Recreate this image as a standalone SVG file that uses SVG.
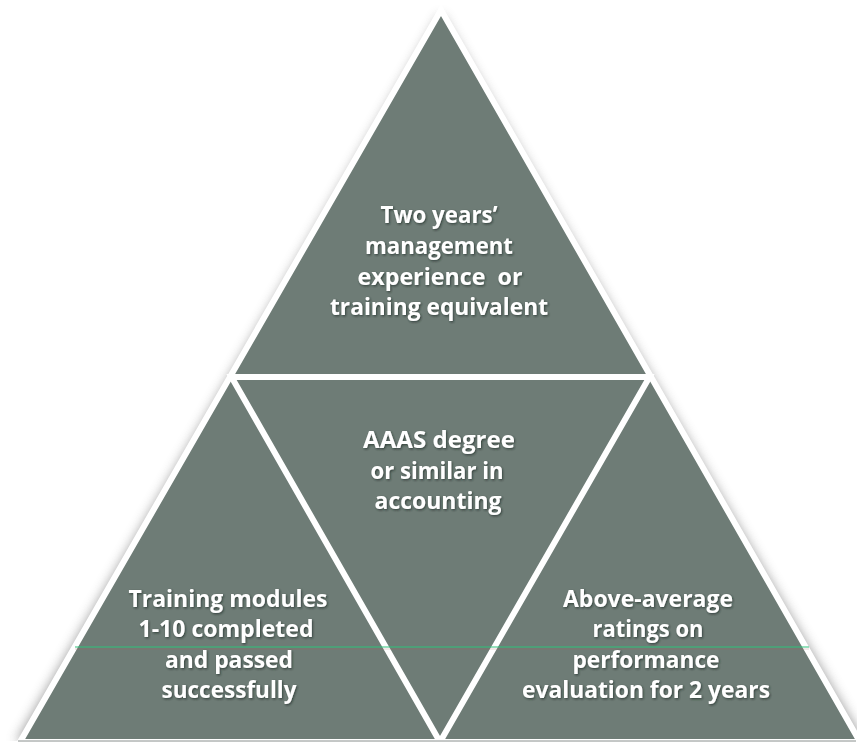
<svg xmlns="http://www.w3.org/2000/svg" width="857" height="744" viewBox="0 0 857 744">
<defs>
<filter id="shadow" x="-10%" y="-10%" width="120%" height="120%">
<feGaussianBlur stdDeviation="6"/>
</filter>
<filter id="ts" x="-10%" y="-30%" width="120%" height="160%">
<feDropShadow dx="1" dy="1.2" stdDeviation="0.8" flood-color="#1e2622" flood-opacity="0.7"/>
</filter>
<style>
.tri{fill:#6e7c76;}
.lbl{font-family:"Open Sans","Noto Sans","DejaVu Sans",sans-serif;font-weight:700;font-size:24px;fill:#ffffff;text-anchor:middle;filter:url(#ts);}
.edge{fill:none;stroke:#ffffff;stroke-width:6;stroke-linejoin:miter;}
</style>
</defs>
<rect width="857" height="744" fill="#ffffff"/>
<polygon points="441,14 16,742 864,742" fill="#7d7d7d" opacity="0.75" filter="url(#shadow)"/>
<rect x="0" y="741" width="857" height="3" fill="#ffffff"/>
<g id="node-top">
<polygon class="tri" points="441,12 231.5,377 649.5,377"/>
<text class="lbl" x="439" y="223" textLength="117" lengthAdjust="spacingAndGlyphs">Two years’</text>
<text class="lbl" x="439" y="254" textLength="148" lengthAdjust="spacingAndGlyphs">management</text>
<text class="lbl" x="440" y="285" textLength="165" lengthAdjust="spacingAndGlyphs" xml:space="preserve">experience  or</text>
<text class="lbl" x="439" y="315" textLength="218" lengthAdjust="spacingAndGlyphs">training equivalent</text>
</g>
<g id="node-middle">
<polygon class="tri" points="231.5,377 649.5,377 440,742"/>
<text class="lbl" x="439" y="448" textLength="152" lengthAdjust="spacingAndGlyphs">AAAS degree</text>
<text class="lbl" x="437" y="479" textLength="133" lengthAdjust="spacingAndGlyphs">or similar in</text>
<text class="lbl" x="438" y="509" textLength="127" lengthAdjust="spacingAndGlyphs">accounting</text>
</g>
<g id="node-left">
<polygon class="tri" points="231.5,377 22,742 440,742"/>
<text class="lbl" x="228" y="607" textLength="199" lengthAdjust="spacingAndGlyphs">Training modules</text>
<text class="lbl" x="226" y="637" textLength="175" lengthAdjust="spacingAndGlyphs">1-10 completed</text>
<text class="lbl" x="229" y="668" textLength="128" lengthAdjust="spacingAndGlyphs">and passed</text>
<text class="lbl" x="229" y="698" textLength="135" lengthAdjust="spacingAndGlyphs">successfully</text>
</g>
<g id="node-right">
<polygon class="tri" points="649.5,377 858,742 440,742"/>
<text class="lbl" x="648" y="607" textLength="170" lengthAdjust="spacingAndGlyphs">Above-average</text>
<text class="lbl" x="648" y="637" textLength="111" lengthAdjust="spacingAndGlyphs">ratings on</text>
<text class="lbl" x="646" y="668" textLength="147" lengthAdjust="spacingAndGlyphs">performance</text>
<text class="lbl" x="646" y="698" textLength="248" lengthAdjust="spacingAndGlyphs">evaluation for 2 years</text>
</g>
<g id="connectors">
<polygon class="edge" points="231.5,377 649.5,377 440,742"/>
<polygon class="edge" points="441,10 20,742 860,742" stroke-width="5"/>
</g>
<rect x="0" y="742" width="857" height="2" fill="#ffffff"/>
<line x1="18" y1="741" x2="856" y2="741" stroke="#3f4743" stroke-width="1" opacity="0.6"/>
<line x1="75" y1="647" x2="809" y2="647" stroke="#2fc27a" stroke-width="1.2"/>
<line x1="75" y1="649" x2="809" y2="649" stroke="#b05a5a" stroke-width="0.8" opacity="0.35"/>
</svg>
